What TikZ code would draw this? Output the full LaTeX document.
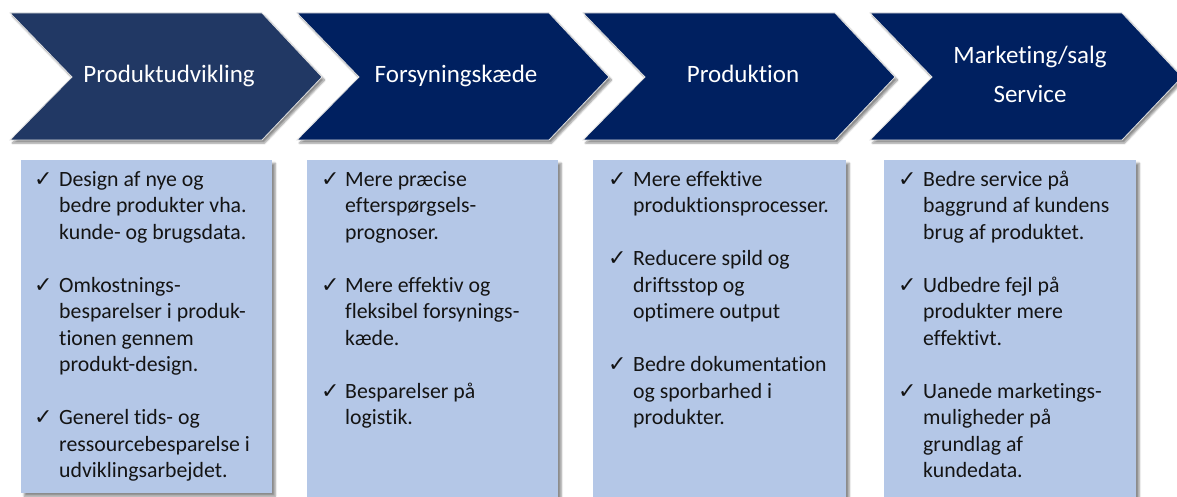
\documentclass[tikz,border=0pt]{standalone}
\usepackage{fontspec}
\setmainfont{Carlito}[Ligatures={NoCommon}]
\newfontfamily\symfont{DejaVu Sans}
\usetikzlibrary{shadows.blur}
\definecolor{chevA}{HTML}{213864}
\definecolor{chevB}{HTML}{002060}
\definecolor{boxfill}{HTML}{B4C7E7}
\definecolor{bodyink}{HTML}{141414}
\tikzset{
  chevshape/.style={line width=0.8pt, draw=white!88!black,
    blur shadow={shadow xshift=2.5pt, shadow yshift=-3pt, shadow blur steps=6, shadow opacity=45}},
  headtext/.style={text=white, font=\fontsize{25}{30}\selectfont, inner sep=0pt, anchor=base},
  infobox/.style={fill=boxfill, draw=none, anchor=north west, inner sep=0pt,
    blur shadow={shadow xshift=3pt, shadow yshift=-3pt, shadow blur steps=6, shadow opacity=45}},
  bodytext/.style={text=bodyink, font=\fontsize{21.8}{26.5}\selectfont, inner sep=0pt, anchor=base west},
  checkmark/.style={text=bodyink, font=\symfont\fontsize{22}{24}\selectfont, inner sep=0pt, anchor=base west}
}
\begin{document}
\begin{tikzpicture}[x=1pt,y=-1pt]
\useasboundingbox (0,0) rectangle (1177,497);
\clip (0,0) rectangle (1177,497);
% chevrons
\foreach \xo/\col/\nm in {10/chevA/1, 297/chevB/2, 583/chevB/3, 870/chevB/4}{
  \path[chevshape, fill=\col] (\xo,13) -- ({\xo+252},13) -- ({\xo+312},77) -- ({\xo+252},140)
     -- (\xo,140) -- ({\xo+62},77) -- cycle;
}
\node[headtext] (h1) at (169,83) {Produktudvikling};
\node[headtext] (h2) at (456,83) {Forsyningskæde};
\node[headtext] (h3) at (743,83) {Produktion};
\node[headtext] (h4a) at (1030,64) {Marketing/salg};
\node[headtext] (h4b) at (1030,103) {Service};
% boxes
\node[infobox, minimum width=251pt, minimum height=333pt] (b1) at (21,160) {};
\node[infobox, minimum width=251pt, minimum height=345pt] (b2) at (307,160) {};
\node[infobox, minimum width=253pt, minimum height=345pt] (b3) at (593,160) {};
\node[infobox, minimum width=252pt, minimum height=345pt] (b4) at (884,160) {};
% box 1
\foreach \k in {0,4,9}{\node[checkmark] (c1-\k) at (34,{186+26.5*\k}) {✓};}
\foreach \k/\t in {0/{Design af nye og},1/{bedre produkter vha.},2/{kunde- og brugsdata.},
  4/{Omkostnings-},5/{besparelser i produk-},6/{tionen gennem},7/{produkt-design.},
  9/{Generel tids- og},10/{ressourcebesparelse i},11/{udviklingsarbejdet.}}{
  \node[bodytext] (t1-\k) at (59,{186+26.5*\k}) {\t};}
% box 2
\foreach \k in {0,4,8}{\node[checkmark] (c2-\k) at (321,{186+26.5*\k}) {✓};}
\foreach \k/\t in {0/{Mere præcise},1/{efterspørgsels-},2/{prognoser.},
  4/{Mere effektiv og},5/{fleksibel forsynings-},6/{kæde.},
  8/{Besparelser på},9/{logistik.}}{
  \node[bodytext] (t2-\k) at (345,{186+26.5*\k}) {\t};}
% box 3
\foreach \k in {0,3,7}{\node[checkmark] (c3-\k) at (608,{186+26.5*\k}) {✓};}
\foreach \k/\t in {0/{Mere effektive},1/{produktionsprocesser.},
  3/{Reducere spild og},4/{driftsstop og},5/{optimere output},
  7/{Bedre dokumentation},8/{og sporbarhed i},9/{produkter.}}{
  \node[bodytext] (t3-\k) at (633,{186+26.5*\k}) {\t};}
% box 4
\foreach \k in {0,4,8}{\node[checkmark] (c4-\k) at (898,{186+26.5*\k}) {✓};}
\foreach \k/\t in {0/{Bedre service på},1/{baggrund af kundens},2/{brug af produktet.},
  4/{Udbedre fejl på},5/{produkter mere},6/{effektivt.},
  8/{Uanede marketings-},9/{muligheder på},10/{grundlag af},11/{kundedata.}}{
  \node[bodytext] (t4-\k) at (923,{186+26.5*\k}) {\t};}
\end{tikzpicture}
\end{document}
